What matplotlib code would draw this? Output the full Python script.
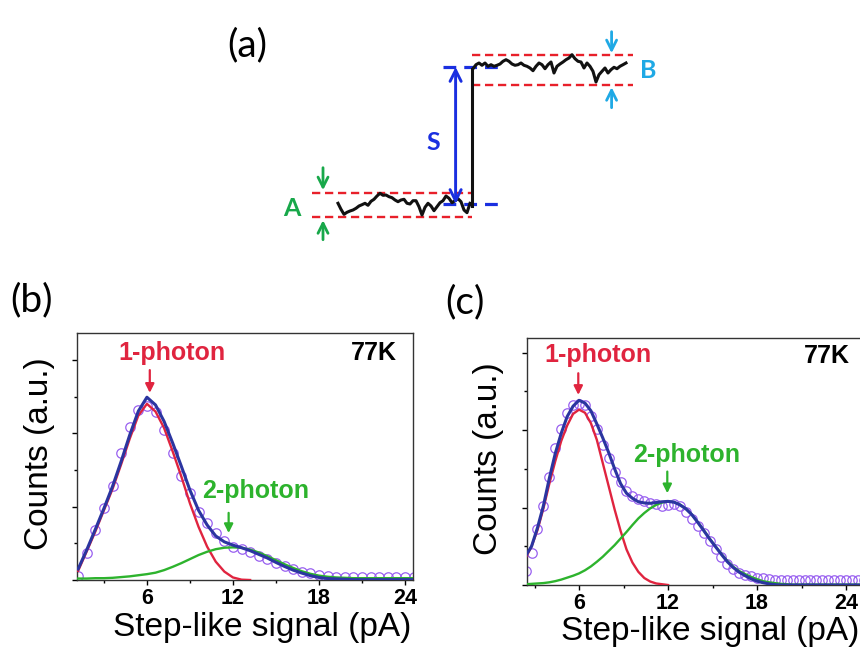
import matplotlib.pyplot as plt
import numpy as np

# ---------- Datos panel (a): traza del escalón (unidades arbitrarias) ----------
senal_baja = [0.7, -5.3, -10.3, -8.3, -7, -6, -4.3, -2, -0.7, 0.7, -1.3, 2.7, 4.7, 8, 10.7,
              8.7, 9, 7.3, 6.3, 4, 2.3, 4, 4.7, 0.7, 0, 3.3, 3.3, -2.7, -11, -3.3, 0.7, -2,
              -6.7, -2.7, 1.3, 3.3, 8, 5.7, 1.3, 3.3, 5.3, 2.3, -6, -8.7, 0.7]
senal_alta = [135.3, 139.3, 141, 138.7, 141, 137.7, 139.3, 137.7, 138.7, 140, 142.7, 144.3,
              142.7, 140, 138.7, 139.3, 141, 138.7, 137.7, 136, 133.3, 137.7, 141, 139.3,
              135.3, 139.3, 142, 131, 137.7, 140, 142, 144.3, 146, 149.3, 145.3, 142.7, 142,
              136, 141, 137.7, 132.7, 122, 129.3, 132.7, 136, 131, 134.3, 136.7, 135.3,
              137.7, 139.3, 141]
nivel_A = 0       # nivel base (línea azul inferior)
nivel_B = 137     # nivel tras el escalón (línea azul superior)
banda_A = [11.3, -12.7]    # límites del ruido A (líneas rojas)
banda_B = [149.3, 119.3]   # límites del ruido B

# ---------- Datos panel (b) ----------
x_b = np.round(1.2 + 0.6 * np.arange(40), 1)
cuentas_b = [0.11, 0.73, 1.35, 1.97, 2.56, 3.45, 4.18, 4.64, 4.75, 4.59, 4.09, 3.47, 2.84,
             2.36, 1.86, 1.55, 1.27, 1.05, 0.91, 0.85, 0.76, 0.66, 0.56, 0.46, 0.37, 0.30,
             0.23, 0.18, 0.14, 0.11, 0.09, 0.08, 0.07, 0.07, 0.07, 0.07, 0.07, 0.07, 0.07, 0.07]
ajuste_b = [0.30, 0.82, 1.38, 1.95, 2.55, 3.23, 3.95, 4.60, 4.98, 4.77, 4.32, 3.73, 3.10,
            2.45, 1.90, 1.50, 1.20, 1.04, 0.95, 0.88, 0.80, 0.70, 0.60, 0.48, 0.37, 0.27,
            0.19, 0.12, 0.07, 0.04, 0.03, 0.02, 0.01, 0.01, 0.01, 0.01, 0.01, 0.01, 0.01, 0.01]
foton1_b = [0.25, 0.78, 1.32, 1.90, 2.48, 3.15, 3.85, 4.48, 4.80, 4.59, 4.14, 3.50, 2.82,
            2.09, 1.45, 0.91, 0.50, 0.23, 0.07, 0.01, 0.0]
foton2_b = [0.04, 0.04, 0.05, 0.05, 0.06, 0.08, 0.10, 0.13, 0.16, 0.20, 0.27, 0.36, 0.46,
            0.57, 0.68, 0.77, 0.84, 0.88, 0.89, 0.88, 0.83, 0.75, 0.65, 0.54, 0.43, 0.33,
            0.24, 0.17, 0.12, 0.09, 0.07, 0.06, 0.05, 0.05, 0.05, 0.05, 0.05, 0.05, 0.05, 0.05]

# ---------- Datos panel (c) ----------
x_c = np.round(2.4 + 0.4 * np.arange(58), 1)
cuentas_c = [0.35, 0.82, 1.45, 2.05, 2.78, 3.55, 4.03, 4.45, 4.66, 4.68, 4.66, 4.37, 4.02,
             3.62, 3.28, 2.92, 2.65, 2.44, 2.31, 2.23, 2.18, 2.13, 2.08, 2.05, 2.07, 2.09,
             2.03, 1.88, 1.70, 1.53, 1.34, 1.14, 0.92, 0.72, 0.54, 0.42, 0.32, 0.26, 0.22,
             0.19, 0.17, 0.15, 0.14, 0.13, 0.12, 0.12, 0.12, 0.12, 0.12, 0.12, 0.12, 0.12,
             0.12, 0.12, 0.12, 0.12, 0.12, 0.12]
ajuste_c = [0.75, 1.00, 1.48, 2.05, 2.76, 3.40, 3.92, 4.35, 4.62, 4.77, 4.70, 4.50, 4.16,
            3.80, 3.42, 3.00, 2.62, 2.37, 2.24, 2.15, 2.12, 2.11, 2.13, 2.15, 2.16, 2.14,
            2.07, 1.97, 1.82, 1.62, 1.41, 1.19, 0.99, 0.79, 0.60, 0.45, 0.33, 0.24, 0.16,
            0.10, 0.06, 0.03, 0.01, 0.0, 0.0, 0.0, 0.0, 0.0, 0.0, 0.0, 0.0, 0.0, 0.0, 0.0,
            0.0, 0.0, 0.0, 0.0]
foton1_c = [0.70, 1.00, 1.42, 1.98, 2.62, 3.20, 3.72, 4.12, 4.42, 4.53, 4.45, 4.18, 3.75,
            3.15, 2.55, 1.95, 1.40, 0.92, 0.58, 0.34, 0.18, 0.09, 0.04, 0.02, 0.0]
foton2_c = [0.02, 0.03, 0.04, 0.05, 0.07, 0.10, 0.14, 0.19, 0.24, 0.30, 0.38, 0.48, 0.60,
            0.73, 0.88, 1.03, 1.20, 1.37, 1.55, 1.72, 1.86, 1.98, 2.07, 2.13, 2.16, 2.14,
            2.08, 1.97, 1.82, 1.63, 1.42, 1.20, 1.00, 0.80, 0.62, 0.47, 0.36, 0.28, 0.21,
            0.15, 0.10, 0.07, 0.05, 0.03, 0.02, 0.01, 0.01, 0.01, 0.01, 0.01, 0.01, 0.01,
            0.01, 0.01, 0.01, 0.01, 0.01, 0.01]

# colores
c_circ = '#9960f0'
c_azul = '#2b35a0'
c_rojo = '#e0243f'
c_verde = '#2db32d'
c_rojo_a = '#e8202a'
c_azul_a = '#1a2fe0'
c_verde_a = '#18a84a'
c_cian = '#1fa9e5'

fig = plt.figure(figsize=(8.6, 6.48), dpi=100)

# ================= Panel (a) =================
ax_a = fig.add_axes([0.3, 0.6, 0.5, 0.4])
ax_a.set_xlim(-26.67, 116.67)
ax_a.set_ylim(-55.2, 204)
ax_a.axis('off')

t_baja = np.arange(len(senal_baja))
t_alta = len(senal_baja) + np.arange(len(senal_alta))
t_paso = len(senal_baja) - 0.3

# bandas de ruido (rojas discontinuas)
for y in banda_A:
    ax_a.plot([-8.8, t_paso], [y, y], color=c_rojo_a, lw=1.7, ls=(0, (3.5, 2)))
for y in banda_B:
    ax_a.plot([t_paso, 98.3], [y, y], color=c_rojo_a, lw=1.7, ls=(0, (3.5, 2)))

# niveles (azules discontinuos)
for y in [nivel_A, nivel_B]:
    ax_a.plot([35, 55], [y, y], color=c_azul_a, lw=2.3, ls=(0, (4, 2.5)))

# traza
ax_a.plot(t_baja, senal_baja, color='#111111', lw=2.2)
ax_a.plot([t_paso, t_paso], [senal_baja[-1] - 3, senal_alta[0]], color='#111111', lw=2.2)
ax_a.plot(t_alta, senal_alta, color='#111111', lw=2.2)

# flecha S
ax_a.annotate('', xy=(39.2, nivel_B), xytext=(39.2, nivel_A),
              arrowprops=dict(arrowstyle='<->', color=c_azul_a, lw=2.1,
                              mutation_scale=20, shrinkA=0, shrinkB=0))
ax_a.text(31.7, 61, 'S', color=c_azul_a, fontsize=18, fontweight='bold',
          family='Lato', ha='center', va='center')

# flechas A
ax_a.annotate('', xy=(-5, banda_A[0] + 2.5), xytext=(-5, banda_A[0] + 25),
              arrowprops=dict(arrowstyle='->', color=c_verde_a, lw=2.0,
                              mutation_scale=18, shrinkA=0, shrinkB=0))
ax_a.annotate('', xy=(-5, banda_A[1] - 3.5), xytext=(-5, banda_A[1] - 23),
              arrowprops=dict(arrowstyle='->', color=c_verde_a, lw=2.0,
                              mutation_scale=18, shrinkA=0, shrinkB=0))
ax_a.text(-15.4, -4, 'A', color=c_verde_a, fontsize=18, fontweight='bold',
          family='Lato', ha='center', va='center')

# flechas B
ax_a.annotate('', xy=(91.2, banda_B[0] + 1.5), xytext=(91.2, banda_B[0] + 23),
              arrowprops=dict(arrowstyle='->', color=c_cian, lw=2.0,
                              mutation_scale=18, shrinkA=0, shrinkB=0))
ax_a.annotate('', xy=(91.2, banda_B[1] - 2.5), xytext=(91.2, banda_B[1] - 23),
              arrowprops=dict(arrowstyle='->', color=c_cian, lw=2.0,
                              mutation_scale=18, shrinkA=0, shrinkB=0))
ax_a.text(103.5, 134, 'B', color=c_cian, fontsize=18, fontweight='bold',
          family='Lato', ha='center', va='center')


# ================= Paneles (b) y (c) =================
def panel(ax, x, cuentas, ajuste, f1, f2, xlim, ylim):
    ax.plot(x, cuentas, 'o', ms=6.8, mfc='none', mec=c_circ, mew=0.9, zorder=2)
    ax.plot(x[:len(f1)], f1, color=c_rojo, lw=1.7, zorder=3)
    ax.plot(x, f2, color=c_verde, lw=1.7, zorder=3)
    ax.plot(x, ajuste, color=c_azul, lw=2.2, zorder=4)
    ax.set_xlim(*xlim)
    ax.set_ylim(*ylim)
    ax.set_xticks([6, 12, 18, 24])
    ax.set_xticks([3, 9, 15, 21], minor=True)
    ax.set_yticks([0, 2, 4, 6])
    ax.set_yticks([1, 3, 5], minor=True)
    ax.set_yticklabels([])
    ax.tick_params(which='major', direction='out', length=3.5, width=1, pad=2.0,
                   labelsize=15.5)
    ax.tick_params(which='minor', direction='out', length=2.5, width=1)
    for lab in ax.get_xticklabels():
        lab.set_fontweight('bold')
        lab.set_family('Liberation Sans')
    for s in ax.spines.values():
        s.set_color('#333333')
        s.set_linewidth(1.0)
    ax.set_xlabel('Step-like signal (pA)', fontsize=24, family='Liberation Sans', va='center')
    ax.set_ylabel('Counts (a.u.)', fontsize=24, family='Liberation Sans', va='center')


ax_b = fig.add_axes([0.0895, 0.1049, 0.3907, 0.3812])
panel(ax_b, x_b, cuentas_b, ajuste_b, foton1_b, foton2_b, (1.12, 24.56), (0, 6.73))
ax_b.xaxis.set_label_coords(0.552, -0.194)
ax_b.yaxis.set_label_coords(-0.113, 0.51)

ax_c = fig.add_axes([0.6124, 0.0972, 0.3919, 0.3812])
panel(ax_c, x_c, cuentas_c, ajuste_c, foton1_c, foton2_c, (2.47, 25.19), (0, 6.38))
ax_c.xaxis.set_label_coords(0.544, -0.19)
ax_c.yaxis.set_label_coords(-0.113, 0.51)

flecha = dict(arrowstyle='-|>', lw=1.6, mutation_scale=13, shrinkA=0, shrinkB=0)
txt = dict(fontsize=18, fontweight='bold', family='Liberation Sans', ha='center', va='center')

# anotaciones (b)
ax_b.text(7.74, 6.19, '1-photon', color=c_rojo, **txt)
ax_b.annotate('', xy=(6.2, 5.1), xytext=(6.2, 5.72), arrowprops=dict(color=c_rojo, **flecha))
ax_b.text(21.84, 6.19, '77K', color='black', **txt)
ax_b.text(13.6, 2.43, '2-photon', color=c_verde, **txt)
ax_b.annotate('', xy=(11.7, 1.28), xytext=(11.7, 1.83), arrowprops=dict(color=c_verde, **flecha))

# anotaciones (c)
ax_c.text(7.3, 5.94, '1-photon', color=c_rojo, **txt)
ax_c.annotate('', xy=(5.95, 4.91), xytext=(5.95, 5.47), arrowprops=dict(color=c_rojo, **flecha))
ax_c.text(22.7, 5.92, '77K', color='black', **txt)
ax_c.text(13.26, 3.36, '2-photon', color=c_verde, **txt)
ax_c.annotate('', xy=(11.95, 2.37), xytext=(11.95, 2.93), arrowprops=dict(color=c_verde, **flecha))

# etiquetas de panel
fig.text(247 / 860, 1 - 45 / 648, '(a)', fontsize=28, family='Lato', ha='center', va='center')
fig.text(32 / 860, 1 - 300 / 648, '(b)', fontsize=28, family='Lato', ha='center', va='center')
fig.text(465 / 860, 1 - 302 / 648, '(c)', fontsize=28, family='Lato', ha='center', va='center')

fig.savefig('out.png', dpi=100)
